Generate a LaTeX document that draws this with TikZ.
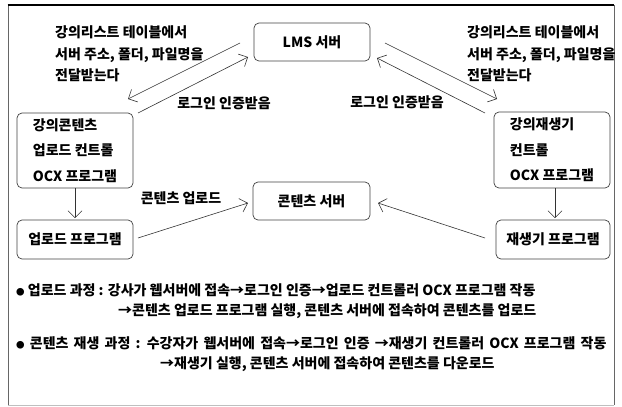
\documentclass[tikz,border=0pt]{standalone}
\usepackage{fontspec}
\setmainfont{Noto Sans CJK KR}
\usetikzlibrary{arrows.meta}
\newcommand{\blt}{{\fontsize{8.5}{8.5}\selectfont ●}}
\tikzset{
  box/.style={draw=black!75, line width=0.7pt, rounded corners=5pt, inner sep=0pt, align=left,
    font=\fontsize{14}{25.5}\selectfont\bfseries},
  lbl/.style={inner sep=0pt, align=left, font=\fontsize{14}{21.5}\selectfont\bfseries},
  txt/.style={inner sep=0pt, anchor=west, font=\fontsize{14}{15}\selectfont\bfseries},
  arr/.style={draw=black!80, line width=0.6pt, -{Straight Barb[length=7pt,width=14pt,line width=0.6pt]}},
}
\begin{document}
\begin{tikzpicture}[x=1pt,y=-1pt]
\useasboundingbox (0,0) rectangle (622,407);
% frame
\draw[black!60, line width=0.8pt] (8,5) -- (8,405);
\draw[black!60, line width=0.8pt] (614,5) -- (614,405);
\draw[black!25, line width=0.8pt] (8,405) -- (614,405);
\draw[black, line width=1.6pt] (7.6,5) -- (614.4,5);
% boxes
\node[box, minimum width=116pt, minimum height=38pt, align=center] (lms) at (312,42) {LMS 서버};
\node[box, minimum width=117pt, minimum height=38pt, align=center] (cs) at (311.5,201) {콘텐츠 서버};
\node[box, minimum width=116pt, minimum height=75pt] (upocx) at (75,150.5) {강의콘텐츠\\업로드 컨트롤\\OCX 프로그램};
\node[box, minimum width=116pt, minimum height=76pt] (plocx) at (552,150) {강의재생기\\컨트롤\\OCX 프로그램};
\node[box, minimum width=116pt, minimum height=39pt, align=center] (upprog) at (75,239.5) {업로드 프로그램};
\node[box, minimum width=114pt, minimum height=39pt, align=center] (plprog) at (553,239.5) {재생기 프로그램};
% free connector ends
\coordinate (a1) at (240,43); \coordinate (a2) at (128,99);
\coordinate (b1) at (138,113); \coordinate (b2) at (248,57);
\coordinate (c1) at (385,43); \coordinate (c2) at (497,99);
\coordinate (d1) at (485,113); \coordinate (d2) at (377,58);
\coordinate (e1) at (138,238); \coordinate (e2) at (248,203);
\coordinate (f1) at (485,238); \coordinate (f2) at (378,203);
% connectors
\draw[arr] (a1) -- (a2);
\draw[arr] (b1) -- (b2);
\draw[arr] (c1) -- (c2);
\draw[arr] (d1) -- (d2);
\draw[arr] (e1) -- (e2);
\draw[arr] (f1) -- (f2);
\draw[arr, shorten >=1.5pt] (upocx.south) -- (upprog.north);
\draw[arr, shorten >=1.5pt] (plocx.south -| 555,0) -- (plprog.north -| 555,0);
% labels
\node[lbl, anchor=west] (t1) at (55,54) {강의리스트 테이블에서\\서버 주소, 폴더, 파일명을\\전달받는다};
\node[lbl, anchor=west] (t2) at (467,54) {강의리스트 테이블에서\\서버 주소, 폴더, 파일명을\\전달받는다};
\node[lbl] (l1) at (224,103) {로그인 인증받음};
\node[lbl] (l2) at (397,102) {로그인 인증받음};
\node[lbl] (l3) at (181,198) {콘텐츠 업로드};
% bottom text
\node[txt] (p1) at (16,290) {\blt\ 업로드 과정 : 강사가 웹서버에 접속→로그인 인증→업로드 컨트롤러 OCX 프로그램 작동};
\node[txt] (p2) at (118,311) {→콘텐츠 업로드 프로그램 실행, 콘텐츠 서버에 접속하여 콘텐츠를 업로드};
\node[txt] (p3) at (16,343) {\spaceskip=5.2pt\blt\ 콘텐츠 재생 과정 : 수강자가 웹서버에 접속→로그인 인증 →재생기 컨트롤러 OCX 프로그램 작동};
\node[txt] (p4) at (160,364) {→재생기 실행, 콘텐츠 서버에 접속하여 콘텐츠를 다운로드};
\end{tikzpicture}
\end{document}
